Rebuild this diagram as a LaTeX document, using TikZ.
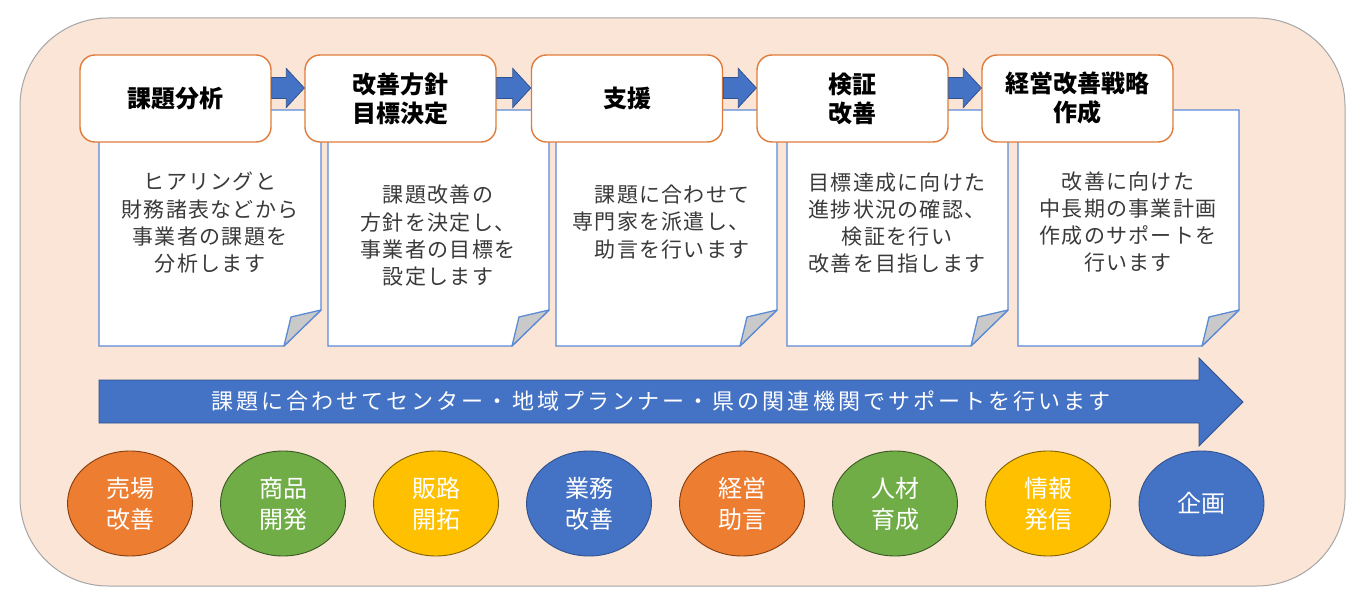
\documentclass[tikz,border=0pt]{standalone}
\usepackage{fontspec}
\setmainfont{Noto Sans CJK JP}
\newfontfamily\bodyfont[LetterSpace=6]{Noto Sans CJK JP}
\newfontfamily\bandfont[LetterSpace=14]{Noto Sans CJK JP}
\usetikzlibrary{shapes.geometric,calc}
\definecolor{framefill}{HTML}{FBE5D6}
\definecolor{frameline}{HTML}{A6A6A6}
\definecolor{boxline}{HTML}{E07B39}
\definecolor{docline}{HTML}{5B8BD6}
\definecolor{flapfill}{HTML}{C9C9C9}
\definecolor{bodytext}{HTML}{3A3A3A}
\definecolor{cblue}{HTML}{4472C4}
\definecolor{cbluedk}{HTML}{2F528F}
\definecolor{corange}{HTML}{ED7D31}
\definecolor{corangedk}{HTML}{843C0C}
\definecolor{cgreen}{HTML}{70AD47}
\definecolor{cgreendk}{HTML}{385723}
\definecolor{cyellow}{HTML}{FFC000}
\definecolor{cyellowdk}{HTML}{7F6000}
\tikzset{
  titlebox/.style={draw=boxline, line width=1.4pt, fill=white, rounded corners=15pt,
    minimum width=191pt, minimum height=87pt, inner sep=0pt, align=center,
    font=\fontsize{24}{29}\selectfont\bfseries, text=black},
  docshape/.style={draw=docline, line width=1.3pt, fill=white},
  flap/.style={draw=docline, line width=1.3pt, fill=flapfill, line join=round},
  doctext/.style={align=center, text=bodytext, inner sep=0pt,
    font=\fontsize{21}{27.3}\bodyfont},
  barrow/.style={draw=cbluedk, line width=0.8pt, fill=cblue, line join=miter},
  bandtext/.style={text=white, inner sep=0pt, font=\fontsize{22}{26}\bandfont},
  circ/.style={ellipse, minimum width=125pt, minimum height=105pt, inner sep=0pt,
    line width=0.9pt, align=center, text=white, font=\fontsize{24}{31}\selectfont},
  corg/.style={circ, fill=corange, draw=corangedk},
  cgrn/.style={circ, fill=cgreen, draw=cgreendk},
  cyel/.style={circ, fill=cyellow, draw=cyellowdk},
  cblu/.style={circ, fill=cblue, draw=cbluedk},
}
\newcommand{\docpaper}[2]{%
  \draw[docshape] (#1,110) -- (#2,110) -- (#2,310) -- ({#2-37},346) -- (#1,346) -- cycle;
  \draw[flap] ({#2-37},346) -- ({#2-30},317) -- (#2,310) -- cycle;}
\newcommand{\stepconn}[2]{%
  \draw[barrow] ($(#1.east)+(0,-21)$) -- ($(#2.west)+(-18,-21)$) -- ($(#2.west)+(-18,-30)$)
    -- ($(#2.west)+(0,-10.5)$) -- ($(#2.west)+(-18,9)$) -- ($(#2.west)+(-18,0)$)
    -- ($(#1.east)+(0,0)$) -- cycle;}
\begin{document}
\begin{tikzpicture}[x=1pt,y=-1pt]
\useasboundingbox (0,0) rectangle (1370,601);
% frame
\draw[fill=framefill, draw=frameline, line width=1pt, rounded corners=88pt] (20,18) rectangle (1345,586);
% documents
\docpaper{99}{321}
\docpaper{328}{549}
\docpaper{556}{777}
\docpaper{787}{1008}
\docpaper{1018}{1239}
\node[doctext] (d1) at (210,223) {ヒアリングと\\財務諸表などから\\事業者の課題を\\分析します};
\node[doctext] (d2) at (438,236) {課題改善の\\方針を決定し、\\事業者の目標を\\設定します};
\node[doctext, align=right] (d3) at (661,222) {課題に合わせて\\専門家を派遣し、\\助言を行います};
\node[doctext] (d4) at (897,223) {目標達成に向けた\\進捗状況の確認、\\検証を行い\\改善を目指します};
\node[doctext] (d5) at (1128,222) {改善に向けた\\中長期の事業計画\\作成のサポートを\\行います};
% title boxes
\node[titlebox] (b1) at (175.5,98.5) {課題分析};
\node[titlebox] (b2) at (400.5,98.5) {改善方針\\目標決定};
\node[titlebox] (b3) at (627,98.5) {支援};
\node[titlebox] (b4) at (852.5,98.5) {検証\\改善};
\node[titlebox] (b5) at (1077.5,98.5) {経営改善戦略\\作成};
\stepconn{b1}{b2}
\stepconn{b2}{b3}
\stepconn{b3}{b4}
\stepconn{b4}{b5}
% big arrow
\draw[barrow] (99,380) -- (1199,380) -- (1199,358) -- (1243,402) -- (1199,446) -- (1199,423) -- (99,423) -- cycle;
\node[bandtext] (band) at (661,401) {課題に合わせてセンター・地域プランナー・県の関連機関でサポートを行います};
% circles
\node[corg] (c1) at (130,503.5) {売場\\改善};
\node[cgrn] (c2) at (283,503.5) {商品\\開発};
\node[cyel] (c3) at (436,503.5) {販路\\開拓};
\node[cblu] (c4) at (589,503.5) {業務\\改善};
\node[corg] (c5) at (742,503.5) {経営\\助言};
\node[cgrn] (c6) at (895,503.5) {人材\\育成};
\node[cyel] (c7) at (1048,503.5) {情報\\発信};
\node[cblu] (c8) at (1201.5,503.5) {企画};
\end{tikzpicture}
\end{document}
